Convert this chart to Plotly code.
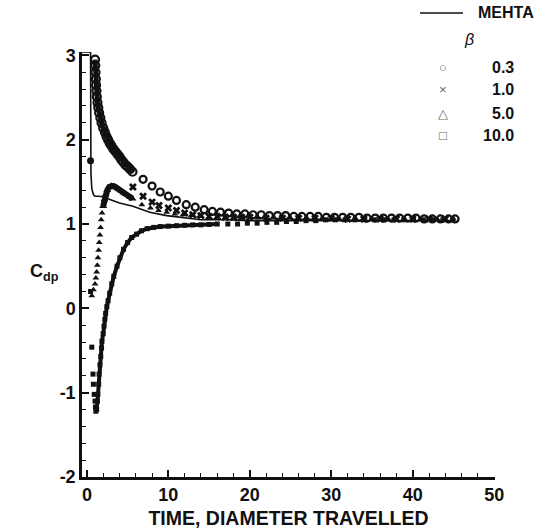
import plotly.graph_objects as go

# ---------------- data ----------------
mehta_t = [0.45, 0.45, 0.5, 0.6, 0.8, 1.0, 1.5, 2.0, 2.8, 4.0, 5.65, 7.7, 9.8, 12.0, 14.0, 17.0, 20.0, 25.0, 30.0, 35.0, 40.0, 45.0]
mehta_cdp = [3.04, 1.90, 1.60, 1.42, 1.35, 1.33, 1.33, 1.32, 1.29, 1.25, 1.21, 1.14, 1.10, 1.07, 1.05, 1.05, 1.04, 1.04, 1.04, 1.04, 1.04, 1.04]
start_t = [0.45]
start_cdp = [1.75]

# beta = 0.3 (circles)
b03_dense_t = [1.0, 1.03, 1.06, 1.1, 1.13, 1.17, 1.22, 1.3, 1.4, 1.5, 1.65, 1.8, 2.0, 2.2, 2.4, 2.6, 2.8, 3.0, 3.25, 3.5, 3.75, 4.0, 4.25, 4.5, 4.75, 5.0, 5.3, 5.6]
b03_dense_cdp = [2.95, 2.88, 2.80, 2.72, 2.65, 2.58, 2.51, 2.44, 2.38, 2.32, 2.26, 2.20, 2.14, 2.09, 2.04, 2.00, 1.96, 1.93, 1.89, 1.86, 1.83, 1.80, 1.76, 1.73, 1.70, 1.68, 1.65, 1.62]
b03_t = [6.9, 8.0, 9.0, 10.0, 11.0, 12.2, 13.3, 14.4, 15.4, 16.4, 17.4, 18.4, 19.4, 20.4, 21.4, 22.4, 23.4, 24.4, 25.4, 26.4, 27.4, 28.4, 29.4, 30.4, 31.4, 32.4, 33.4, 34.4, 35.4, 36.4, 37.4, 38.4, 39.4, 40.4, 41.4, 42.4, 43.4, 44.4, 45.2]
b03_cdp = [1.53, 1.45, 1.38, 1.33, 1.28, 1.23, 1.20, 1.17, 1.15, 1.14, 1.13, 1.12, 1.12, 1.11, 1.11, 1.10, 1.10, 1.10, 1.09, 1.09, 1.09, 1.09, 1.08, 1.08, 1.08, 1.08, 1.08, 1.07, 1.07, 1.07, 1.07, 1.07, 1.07, 1.07, 1.06, 1.06, 1.06, 1.06, 1.06]

# beta = 1.0 (crosses)
b10_t = [5.65, 6.9, 8.0, 8.85, 10.0, 11.0, 12.0, 13.0, 14.0, 15.0, 16.0, 17.0, 18.0, 19.0, 20.0, 22.0, 24.0, 26.0, 28.0, 30.0, 32.0, 34.0, 36.0, 38.0, 40.0, 42.0, 44.0]
b10_cdp = [1.44, 1.33, 1.26, 1.22, 1.19, 1.16, 1.13, 1.11, 1.10, 1.09, 1.09, 1.08, 1.08, 1.08, 1.08, 1.07, 1.07, 1.07, 1.07, 1.07, 1.06, 1.06, 1.06, 1.06, 1.06, 1.06, 1.06]

# beta = 5.0 (triangles)
b50_dense_t = [0.6, 0.8, 1.0, 1.1, 1.2, 1.28, 1.36, 1.44, 1.52, 1.6, 1.68, 1.76, 1.86, 2.0, 2.15, 2.3, 2.5, 2.75, 3.0, 3.25, 3.5, 3.75, 4.0, 4.25, 4.5, 4.75, 5.0, 5.3, 5.6]
b50_dense_cdp = [0.15, 0.22, 0.29, 0.36, 0.43, 0.51, 0.60, 0.69, 0.78, 0.87, 0.96, 1.05, 1.13, 1.21, 1.29, 1.35, 1.40, 1.44, 1.455, 1.45, 1.44, 1.42, 1.41, 1.39, 1.37, 1.355, 1.34, 1.32, 1.30]
b50_t = [6.75, 7.8, 8.8, 9.8, 10.8, 11.8, 12.8, 13.8, 15.0, 17.0, 19.0, 21.0, 23.0, 25.0, 27.0, 29.0, 31.0, 33.0, 35.0, 37.0, 39.0, 41.0, 43.0, 45.0]
b50_cdp = [1.23, 1.19, 1.16, 1.14, 1.12, 1.11, 1.10, 1.09, 1.08, 1.08, 1.07, 1.07, 1.07, 1.07, 1.07, 1.06, 1.06, 1.06, 1.06, 1.06, 1.06, 1.06, 1.06, 1.06]

# beta = 10.0 (squares)
b100_early_t = [0.45, 0.6, 0.75, 0.8, 0.9, 1.0, 1.05]
b100_early_cdp = [0.20, -0.46, -0.78, -0.90, -1.02, -1.10, -1.17]
b100_dense_t = [1.1, 1.2, 1.3, 1.35, 1.45, 1.5, 1.6, 1.7, 1.8, 1.85, 2.0, 2.1, 2.2, 2.3, 2.45, 2.6, 2.8, 3.05, 3.3, 3.7, 4.05, 4.5, 5.0, 5.5, 6.1, 6.7, 7.4, 8.2, 9.0, 10.0, 11.0, 12.0, 13.0, 14.0, 15.0, 16.0]
b100_dense_cdp = [-1.22, -1.20, -1.10, -1.02, -0.90, -0.78, -0.67, -0.57, -0.47, -0.39, -0.30, -0.21, -0.13, -0.06, 0.02, 0.09, 0.18, 0.29, 0.38, 0.50, 0.60, 0.70, 0.78, 0.84, 0.88, 0.92, 0.945, 0.96, 0.97, 0.975, 0.98, 0.985, 0.99, 0.99, 0.995, 1.00]
b100_t = [17.3, 18.5, 19.7, 20.9, 22.1, 23.3, 24.5, 25.7, 26.9, 28.1, 29.3, 30.5, 31.7, 32.9, 34.1, 35.3, 36.5, 37.7, 38.9, 40.1, 41.3, 42.5, 43.7, 44.9]
b100_cdp = [1.00, 1.00, 1.01, 1.01, 1.02, 1.02, 1.03, 1.03, 1.04, 1.04, 1.05, 1.05, 1.05, 1.05, 1.05, 1.05, 1.05, 1.05, 1.05, 1.05, 1.05, 1.05, 1.05, 1.05]

x_ticks = [0, 10, 20, 30, 40, 50]
y_ticks = [-2, -1, 0, 1, 2, 3]
y_tick_text = ["-2", "-1", "0", "1", "2", "3"]
legend_betas = ["0.3", "1.0", "5.0", "10.0"]
legend_symbols = ["○", "×", "△", "□"]

# ---------------- figure ----------------
INK = "#111111"
FONT = "Liberation Sans, Arial, sans-serif"
W, H = 551, 531
ML, MR, MT, MB = 82, 56, 52, 54
fig = go.Figure()

fig.add_trace(go.Scatter(x=mehta_t, y=mehta_cdp, mode="lines",
                         line=dict(color=INK, width=1.6), showlegend=False))
fig.add_trace(go.Scatter(x=start_t, y=start_cdp, mode="markers",
                         marker=dict(symbol="circle", size=7, color=INK), showlegend=False))

# circles
fig.add_trace(go.Scatter(x=b03_dense_t, y=b03_dense_cdp, mode="lines+markers",
                         line=dict(color=INK, width=5),
                         marker=dict(symbol="circle-open", size=8, color=INK, line=dict(width=2.2)),
                         showlegend=False))
fig.add_trace(go.Scatter(x=b03_t, y=b03_cdp, mode="markers",
                         marker=dict(symbol="circle-open", size=7, color=INK, line=dict(width=2.2)),
                         showlegend=False))
# crosses
fig.add_trace(go.Scatter(x=b10_t, y=b10_cdp, mode="markers",
                         marker=dict(symbol="x", size=7, color=INK, line=dict(width=0)),
                         showlegend=False))
# triangles
fig.add_trace(go.Scatter(x=b50_dense_t[:14], y=b50_dense_cdp[:14], mode="markers",
                         marker=dict(symbol="triangle-up", size=6, color=INK),
                         showlegend=False))
fig.add_trace(go.Scatter(x=b50_dense_t[13:], y=b50_dense_cdp[13:], mode="lines+markers",
                         line=dict(color=INK, width=6),
                         marker=dict(symbol="triangle-up", size=7, color=INK),
                         showlegend=False))
fig.add_trace(go.Scatter(x=b50_t, y=b50_cdp, mode="markers",
                         marker=dict(symbol="triangle-up", size=6, color=INK),
                         showlegend=False))
# squares
fig.add_trace(go.Scatter(x=b100_early_t, y=b100_early_cdp, mode="markers",
                         marker=dict(symbol="square", size=5, color=INK),
                         showlegend=False))
fig.add_trace(go.Scatter(x=b100_dense_t, y=b100_dense_cdp, mode="lines+markers",
                         line=dict(color=INK, width=4),
                         marker=dict(symbol="square", size=5, color=INK),
                         showlegend=False))
fig.add_trace(go.Scatter(x=b100_t, y=b100_cdp, mode="markers",
                         marker=dict(symbol="square", size=5, color=INK),
                         showlegend=False))

axis_common = dict(
    showline=True, linecolor=INK, linewidth=2.5, showgrid=False, zeroline=False,
    ticks="inside", ticklen=7, tickwidth=1.5, tickcolor=INK,
    tickfont=dict(family=FONT, size=18, color=INK, weight="bold"),
    mirror=False, automargin=False,
)
fig.update_xaxes(range=[-0.6, 50.1], tickvals=x_ticks,
                 minor=dict(dtick=2, ticks="inside", ticklen=4, tickwidth=1.2, tickcolor=INK),
                 title=dict(text="TIME, DIAMETER TRAVELLED",
                            font=dict(family=FONT, size=19.5, color=INK, weight="bold"), standoff=8),
                 **axis_common)
fig.update_yaxes(range=[-2, 3.04], tickvals=y_ticks, ticktext=y_tick_text,
                 minor=dict(dtick=0.2, ticks="inside", ticklen=4, tickwidth=1.2, tickcolor=INK),
                 **axis_common)

# small top piece at the start of the Mehta curve
fig.add_shape(type="line", xref="x", yref="y", x0=-0.6, x1=0.45, y0=3.04, y1=3.04,
              line=dict(color=INK, width=1.6))

fig.update_layout(
    width=W, height=H,
    margin=dict(l=ML, r=MR, t=MT, b=MB, autoexpand=False),
    paper_bgcolor="white", plot_bgcolor="white",
    font=dict(family=FONT, color=INK),
)

pw, ph = W - ML - MR, H - MT - MB
def px(x):
    return (x - ML) / pw
def py(y):
    return (H - MB - y) / ph

def note(text, x, y, size, anchor="center", color=INK, weight="bold"):
    fig.add_annotation(text=text, x=px(x), y=py(y), xref="paper", yref="paper",
                       xanchor=anchor, yanchor="middle", showarrow=False,
                       font=dict(family=FONT, size=size, color=color, weight=weight))

# y-axis title
note("C<sub>dp</sub>", 44, 272, 18)

# legend (drawn manually)
fig.add_shape(type="line", xref="paper", yref="paper", x0=px(420), x1=px(463), y0=py(13), y1=py(13),
              line=dict(color=INK, width=1.6))
note("MEHTA", 476, 13, 16, anchor="left")
note("<i>β</i>", 469, 40, 16, weight="normal")
rows_y = [67, 90, 113, 135]
for sym, lab, yy in zip(legend_symbols, legend_betas, rows_y):
    note(sym, 443, yy, 13, color="#666666", weight="normal")
    note(lab, 516, yy, 16, anchor="right")

fig.write_html("out.html")
